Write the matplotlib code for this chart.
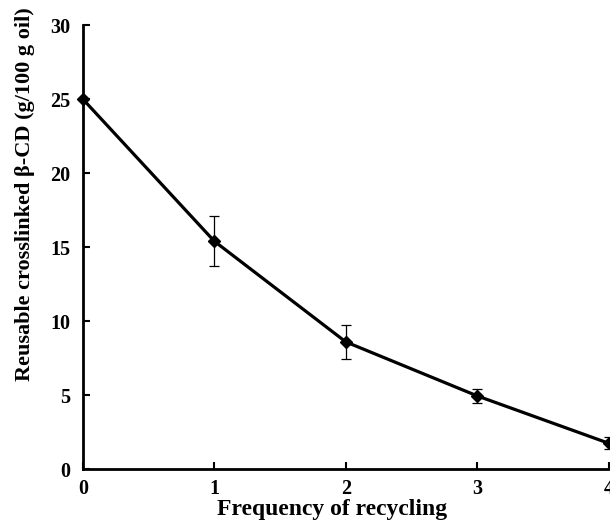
import matplotlib
matplotlib.use("Agg")
import matplotlib.pyplot as plt

# Data
recycles = [0, 1, 2, 3, 4]
reusable_cd = [25.0, 15.4, 8.6, 4.95, 1.75]
errors = [0.0, 1.7, 1.15, 0.45, 0.4]

plt.rcParams["font.family"] = ["Liberation Serif", "DejaVu Serif"]
plt.rcParams["font.weight"] = "bold"

fig = plt.figure(figsize=(6.10, 5.26), dpi=100)
ax = fig.add_axes([0.136, 0.108, 0.862, 0.844])

ax.errorbar(recycles, reusable_cd, yerr=errors, color="black", lw=2.3,
            marker="D", markersize=6, ecolor="black", elinewidth=0.9,
            capsize=3.3, capthick=0.9, clip_on=False, zorder=3)

ax.set_xlim(0, 4)
ax.set_ylim(0, 30)
ax.set_xticks(recycles)
ax.set_yticks(range(0, 31, 5))

for side in ("top", "right"):
    ax.spines[side].set_visible(False)
for side in ("left", "bottom"):
    ax.spines[side].set_linewidth(2.0)

ax.tick_params(direction="in", length=5, width=1.5, labelsize=14.5)
ax.tick_params(axis="x", pad=7)
ax.tick_params(axis="y", pad=9)
for lbl in ax.get_xticklabels() + ax.get_yticklabels():
    lbl.set_fontweight("bold")

# axis titles placed in figure coords (the y title sits above the axes centre)
fig.text(332 / 610, 1 - 510 / 526, "Frequency of recycling", fontsize=17,
         fontweight="bold", ha="center", va="center")
fig.text(25 / 610, 1 - 194 / 526, "Reusable crosslinked β-CD (g/100 g oil)",
         fontsize=16, fontweight="bold", rotation=90, ha="center", va="center")

fig.savefig("out.png", dpi=100)
